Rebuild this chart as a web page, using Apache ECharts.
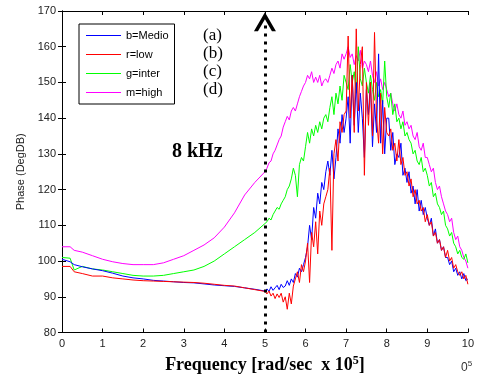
<!DOCTYPE html>
<html>
<head>
<meta charset="utf-8">
<script src="https://cdn.jsdelivr.net/npm/echarts@6/dist/echarts.min.js"></script>
<style>
  html, body { margin: 0; padding: 0; background: #fff; }
  #chart { width: 477px; height: 379px; }
</style>
</head>
<body>
<div id="chart"></div>
<script>
// frequency (x 10^5 rad/sec): coarse below 5, fine above
var freq = [0, 0.2, 0.3, 0.5, 0.75, 1, 1.25, 1.5, 1.75, 2, 2.25, 2.5, 2.75, 3, 3.25, 3.5, 3.75, 4, 4.25, 4.5, 4.75, 5,
  5.05, 5.1, 5.15, 5.2, 5.25, 5.3, 5.35, 5.4, 5.45, 5.5,
  5.55, 5.6, 5.65, 5.7, 5.75, 5.8, 5.85, 5.9, 5.95, 6,
  6.05, 6.1, 6.15, 6.2, 6.25, 6.3, 6.35, 6.4, 6.45, 6.5,
  6.55, 6.6, 6.65, 6.7, 6.75, 6.8, 6.85, 6.9, 6.95, 7,
  7.05, 7.1, 7.15, 7.2, 7.25, 7.3, 7.35, 7.4, 7.45, 7.5,
  7.55, 7.6, 7.65, 7.7, 7.75, 7.8, 7.85, 7.9, 7.95, 8,
  8.05, 8.1, 8.15, 8.2, 8.25, 8.3, 8.35, 8.4, 8.45, 8.5,
  8.55, 8.6, 8.65, 8.7, 8.75, 8.8, 8.85, 8.9, 8.95, 9,
  9.05, 9.1, 9.15, 9.2, 9.25, 9.3, 9.35, 9.4, 9.45, 9.5,
  9.55, 9.6, 9.65, 9.7, 9.75, 9.8, 9.85, 9.9, 9.95, 10];

// phase values, one per freq entry
var medio = [100.5, 99.8, 99, 98.4, 97.8, 97.3, 96.6, 95.8, 95.3, 95, 94.6, 94.4, 94.2, 94, 93.9, 93.6, 93.3, 93.1, 92.9, 92.5, 92.1, 91.6,
  92.2, 91.5, 92.8, 91.8, 92.5, 93.2, 92, 93.5, 92.6, 93,
  94.5, 93.2, 95, 94, 96.5, 95.5, 98, 97, 99, 101,
  104, 110, 106, 115, 112, 119, 116, 122, 120, 125,
  128, 124, 131, 123, 129, 137, 133, 141, 136, 140,
  146, 133, 152, 138, 150, 136, 147, 140, 129, 148,
  141, 150, 132, 144, 136, 158, 133, 145, 130, 140,
  140, 131, 136, 127, 130, 129, 133, 124, 126, 122,
  125, 119, 121, 116, 120, 114, 117, 113, 115, 112,
  110, 112, 107, 109, 105, 106, 103, 104, 101, 101,
  99, 100, 97, 98, 96, 97, 95, 96.5, 94.5, 95];

var low = [98.5, 98.5, 97, 96.5, 95.8, 95.8, 95.3, 95, 94.7, 94.5, 94.4, 94.3, 94.2, 94.1, 94, 93.8, 93.5, 93.2, 93, 92.5, 92, 91.5,
  90.8, 91.6, 90.2, 91, 89.5, 90.8, 89.8, 91, 88.5, 90,
  86.5, 91, 88, 93, 95, 97, 94, 99, 97, 100,
  105, 94, 108, 104, 111, 102, 114, 110, 116, 118,
  120, 126, 103, 130, 134, 128, 139, 136, 141, 142,
  163, 140, 152, 136, 165, 142, 155, 160, 124, 150,
  138, 150, 135, 164, 140, 133, 147, 130, 143, 136,
  135, 137, 131, 133, 128, 134, 127, 129, 124, 125,
  121, 123, 118, 120, 116, 117, 114, 115, 111, 113,
  110, 111, 107, 108, 105, 106, 103, 104, 101, 103,
  100, 101, 98, 99, 97, 96, 97, 95, 96, 93.5];

var inter = [101, 100.8, 97.5, 98.5, 97.8, 97.5, 97, 96.5, 96, 95.8, 95.8, 96, 96.5, 97, 97.5, 98.5, 100, 102, 104, 106, 108, 110.5,
  111, 112, 111.5, 113, 114, 115, 114.5, 116, 117, 118,
  120, 121, 123, 126, 124, 118, 127, 129, 128, 132,
  136, 133, 137, 135, 138, 136, 139, 137, 140, 141,
  139, 143, 146, 141, 147, 144, 149, 145, 152, 150,
  148, 155, 150, 153, 147, 160, 151, 149, 154, 150,
  147, 152, 148, 145, 150, 146, 148, 144, 156, 146,
  143, 147, 141, 144, 139, 140, 137, 139, 135, 136,
  134, 133, 130, 131, 128, 127, 129, 125, 126, 124,
  121, 122, 118, 119, 116, 115, 113, 114, 110, 109,
  107, 108, 105, 104, 102, 103, 101, 100.5, 102, 99.5];

var high = [104, 104, 103, 102.5, 101.5, 100.5, 99.8, 99.3, 99, 99, 99, 99.5, 100.5, 101.5, 103, 104.5, 106.5, 109.5, 113.5, 118.5, 122, 125,
  126, 127.5, 128, 130, 131, 132.5, 134, 135, 137.5, 139,
  140.5, 139.5, 142, 143, 142, 144, 146, 147.5, 149, 150,
  152, 151, 153, 150, 151.5, 150, 152, 149, 150.5, 151,
  150, 152, 154, 152.5, 155, 156, 154, 158, 156.5, 158,
  160, 157, 158, 155, 157.5, 156, 159, 154, 156, 155,
  153, 156, 152, 150, 153, 149, 151, 148, 150, 148,
  146, 147, 144, 142, 144, 141, 140, 142, 138, 139,
  137, 138, 135, 134, 136, 132, 131, 133, 129, 129,
  127, 125, 126, 122, 120, 121, 118, 116, 114, 113,
  111, 112, 108, 106, 107, 104, 103, 101, 100, 98];

var legendNames = ['b=Medio', 'r=low', 'g=inter', 'm=high'];
var panelTags = ['(a)', '(b)', '(c)', '(d)'];
var arrowFreq = 5;

var chart = echarts.init(document.getElementById('chart'));

function pairs(vals) {
  return freq.map(function (f, i) { return [f, vals[i]]; });
}

function curve(name, color, vals, extra) {
  var s = {
    name: name,
    type: 'line',
    data: pairs(vals),
    symbol: 'none',
    smooth: false,
    lineStyle: { color: color, width: 1 },
    itemStyle: { color: color },
    animation: false
  };
  if (extra) s.markLine = extra;
  return s;
}

var arrow = {
  silent: true,
  symbol: ['none', 'path://M0,19 L11,0 L22,19 L18,19 L11,7 L4,19 Z'],
  symbolSize: [22, 19],
  label: { show: false },
  lineStyle: { color: '#000', width: 3, type: [3, 5] },
  data: [[{ coord: [arrowFreq, 80] }, { coord: [arrowFreq, 167] }]]
};

var tagFont = 'Liberation Serif';
var tagGraphics = panelTags.map(function (t, i) {
  return {
    type: 'text',
    left: 203,
    top: 27 + i * 18,
    style: { text: t, font: '17px "Liberation Serif"', fill: '#000' }
  };
});

var option = {
  backgroundColor: '#fff',
  animation: false,
  grid: { left: 62, right: 5, top: 11, bottom: 44 },
  legend: {
    data: legendNames,
    orient: 'vertical',
    left: 79,
    top: 24,
    icon: 'path://M0,0 L35,0 L35,1 L0,1 Z',
    itemWidth: 35,
    itemHeight: 10,
    itemGap: 8,
    padding: [6, 6, 6, 7],
    borderColor: '#000',
    borderWidth: 1,
    backgroundColor: '#fff',
    textStyle: { fontSize: 11, color: '#000', fontFamily: 'Liberation Sans' }
  },
  xAxis: [{
    type: 'value', min: 0, max: 10, interval: 1,
    axisLine: { lineStyle: { color: '#000', width: 1 } },
    axisTick: { inside: true, length: 4, lineStyle: { color: '#000' } },
    axisLabel: { fontSize: 11, color: '#222', fontFamily: 'Liberation Sans', margin: 6 },
    splitLine: { show: false },
    name: '{a|Frequency [rad/sec  x 10}{s|5}{a|]}',
    nameLocation: 'middle',
    nameGap: 22,
    nameTextStyle: {
      rich: {
        a: { fontSize: 18, fontWeight: 'bold', fontFamily: tagFont, color: '#000' },
        s: { fontSize: 12, fontWeight: 'bold', fontFamily: tagFont, color: '#000', padding: [0, 0, 9, 0] }
      }
    }
  }, {
    type: 'value', min: 0, max: 10, interval: 1, position: 'top',
    axisLine: { lineStyle: { color: '#000', width: 1 } },
    axisTick: { inside: true, length: 4, lineStyle: { color: '#000' } },
    axisLabel: { show: false },
    splitLine: { show: false }
  }],
  yAxis: [{
    type: 'value', min: 80, max: 170, interval: 10,
    axisLine: { show: true, lineStyle: { color: '#000', width: 1 } },
    axisTick: { show: true, inside: true, length: 4, lineStyle: { color: '#000' } },
    axisLabel: { fontSize: 11, color: '#222', fontFamily: 'Liberation Sans', margin: 6 },
    splitLine: { show: false },
    name: 'Phase (DegDB)',
    nameLocation: 'middle',
    nameGap: 29,
    nameTextStyle: { fontSize: 11, color: '#222', fontFamily: 'Liberation Sans' }
  }, {
    type: 'value', min: 80, max: 170, interval: 10, position: 'right',
    axisLine: { show: true, lineStyle: { color: '#000', width: 1 } },
    axisTick: { show: true, inside: true, length: 4, lineStyle: { color: '#000' } },
    axisLabel: { show: false },
    splitLine: { show: false }
  }],
  series: [
    curve('m=high', '#ff00ff', high),
    curve('g=inter', '#00ff00', inter),
    curve('b=Medio', '#0000ff', medio),
    curve('r=low', '#ff0000', low, arrow)
  ],
  graphic: tagGraphics.concat([
    {
      type: 'text', left: 172, top: 142,
      style: { text: '8 kHz', font: 'bold 20px "Liberation Serif"', fill: '#000' }
    },
    {
      type: 'text', left: 461, top: 360,
      style: {
        text: '{a|0}{s|5}',
        rich: {
          a: { fontSize: 12, fontFamily: 'Liberation Sans', fill: '#333' },
          s: { fontSize: 8, fontFamily: 'Liberation Sans', fill: '#333', padding: [0, 0, 7, 0] }
        }
      }
    }
  ])
};

chart.setOption(option);
</script>
</body>
</html>
